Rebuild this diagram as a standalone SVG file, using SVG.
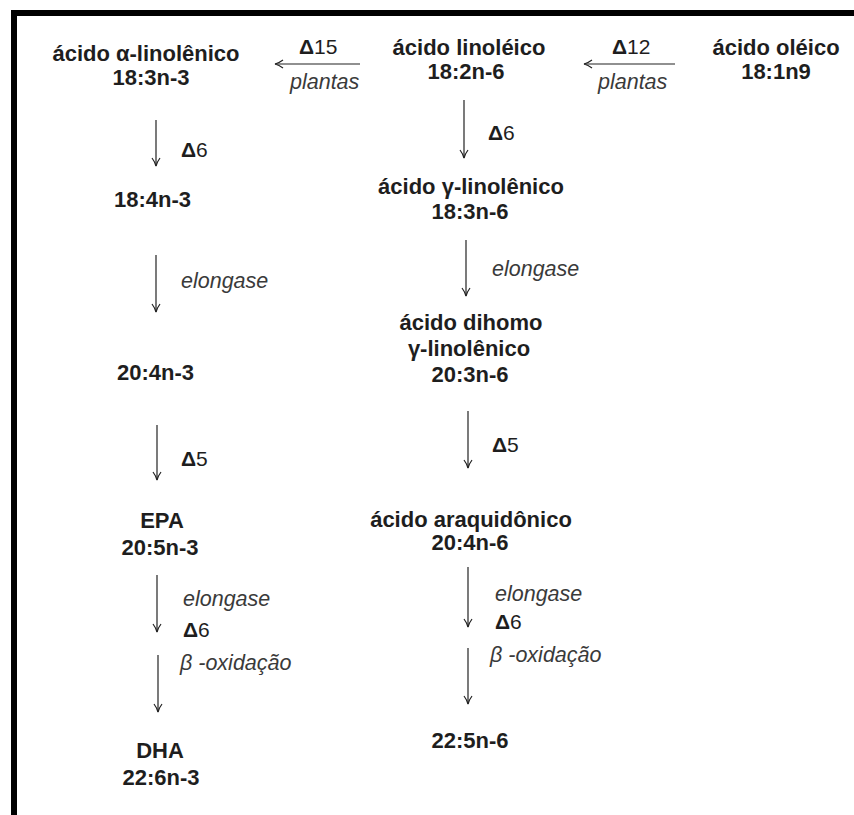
<svg xmlns="http://www.w3.org/2000/svg" width="854" height="815" viewBox="0 0 854 815">
  <style>
    .t { font-family: "Liberation Sans", Arial, sans-serif; font-size: 22px; font-weight: bold; fill: #1e1e1e; }
    .c { text-anchor: middle; }
    .e { font-family: "Liberation Sans", Arial, sans-serif; font-size: 21.5px; font-style: italic; fill: #3a3a3a; }
    .d { font-family: "Liberation Sans", Arial, sans-serif; font-size: 21px; fill: #1e1e1e; }
    .d tspan.g { font-weight: bold; }
    .arr { stroke: #222; stroke-width: 1.2; fill: none; marker-end: url(#head); }
  </style>
  <defs>
    <marker id="head" viewBox="0 0 10 10" refX="9" refY="5" markerWidth="10" markerHeight="10" markerUnits="userSpaceOnUse" orient="auto">
      <path d="M1,1 Q5,4 9,5 Q5,6 1,9" fill="none" stroke="#222" stroke-width="1.2"/>
    </marker>
  </defs>

  <rect width="854" height="815" fill="#ffffff"/>
  <!-- frame: top and left edges -->
  <rect x="11" y="10" width="843" height="6" fill="#000"/>
  <rect x="11" y="10" width="6" height="805" fill="#000"/>

  <!-- n-3 series -->
  <g id="ala"><text class="t c" x="146" y="61">ácido α-linolênico</text><text class="t c" x="151" y="85">18:3n-3</text></g>
  <g id="sda"><text class="t" x="114" y="207">18:4n-3</text></g>
  <g id="eta"><text class="t" x="117" y="380">20:4n-3</text></g>
  <g id="epa"><text class="t c" x="162" y="528">EPA</text><text class="t c" x="160" y="555">20:5n-3</text></g>
  <g id="dha"><text class="t c" x="160" y="758">DHA</text><text class="t c" x="161" y="785">22:6n-3</text></g>

  <!-- n-6 series -->
  <g id="la"><text class="t c" x="469" y="55">ácido linoléico</text><text class="t c" x="466" y="79">18:2n-6</text></g>
  <g id="oa"><text class="t c" x="776" y="55">ácido oléico</text><text class="t c" x="776" y="79">18:1n9</text></g>
  <g id="gla"><text class="t c" x="471" y="194">ácido γ-linolênico</text><text class="t c" x="470" y="219">18:3n-6</text></g>
  <g id="dgla"><text class="t c" x="471" y="330">ácido dihomo</text><text class="t c" x="469" y="356">γ-linolênico</text><text class="t c" x="470" y="382">20:3n-6</text></g>
  <g id="aa"><text class="t c" x="471" y="527">ácido araquidônico</text><text class="t c" x="470" y="550">20:4n-6</text></g>
  <g id="dpa"><text class="t c" x="470" y="748">22:5n-6</text></g>

  <!-- enzyme labels -->
  <g id="labels">
    <text class="d" x="299" y="54"><tspan class="g">Δ</tspan>15</text>
    <text class="e" x="290" y="89">plantas</text>
    <text class="d" x="612" y="54"><tspan class="g">Δ</tspan>12</text>
    <text class="e" x="598" y="89">plantas</text>

    <text class="d" x="181" y="157"><tspan class="g">Δ</tspan>6</text>
    <text class="e" x="181" y="288">elongase</text>
    <text class="d" x="181" y="466"><tspan class="g">Δ</tspan>5</text>
    <text class="e" x="183" y="606">elongase</text>
    <text class="d" x="183" y="637"><tspan class="g">Δ</tspan>6</text>
    <text class="e" x="180" y="670">β -oxidação</text>

    <text class="d" x="488" y="140"><tspan class="g">Δ</tspan>6</text>
    <text class="e" x="492" y="276">elongase</text>
    <text class="d" x="492" y="452"><tspan class="g">Δ</tspan>5</text>
    <text class="e" x="495" y="601">elongase</text>
    <text class="d" x="495" y="629"><tspan class="g">Δ</tspan>6</text>
    <text class="e" x="490" y="662">β -oxidação</text>
  </g>

  <!-- connectors -->
  <g id="connectors">
    <line class="arr" x1="360" y1="64" x2="275" y2="64"/>
    <line class="arr" x1="675" y1="64" x2="584" y2="64" stroke="#555" stroke-width="2"/>

    <line class="arr" x1="156" y1="120" x2="156" y2="166"/>
    <line class="arr" x1="156" y1="255" x2="156" y2="312"/>
    <line class="arr" x1="157" y1="425" x2="157" y2="480"/>
    <line class="arr" x1="157" y1="575" x2="157" y2="632"/>
    <line class="arr" x1="158" y1="655" x2="158" y2="712"/>

    <line class="arr" x1="464" y1="100" x2="464" y2="158"/>
    <line class="arr" x1="466" y1="240" x2="466" y2="296"/>
    <line class="arr" x1="468" y1="411" x2="468" y2="468"/>
    <line class="arr" x1="468" y1="567" x2="468" y2="627"/>
    <line class="arr" x1="468" y1="648" x2="468" y2="704"/>
  </g>
</svg>
